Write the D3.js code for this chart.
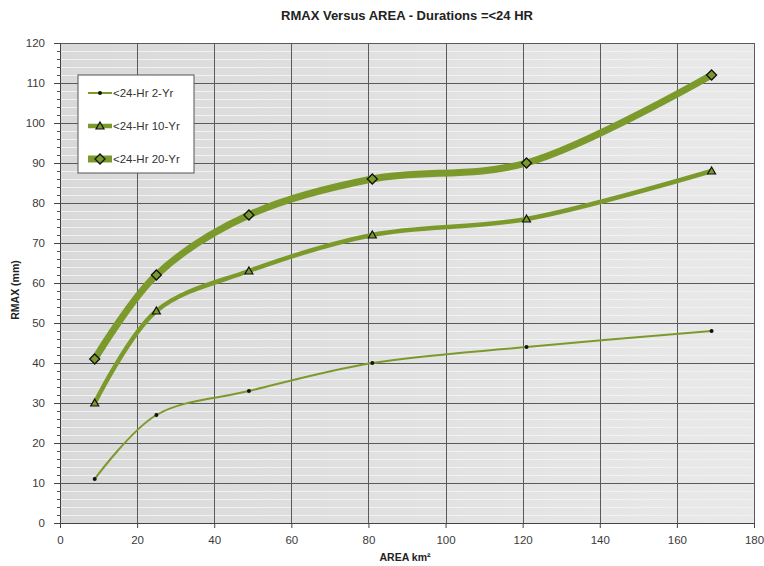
<!DOCTYPE html>
<html>
<head>
<meta charset="utf-8">
<script src="https://cdn.jsdelivr.net/npm/d3@7"></script>
<style>
  body { margin: 0; background: #fff; }
  text { font-family: "Liberation Sans", Arial, sans-serif; }
</style>
</head>
<body>
<svg id="chart" width="764" height="566"></svg>
<script>
// Data
const areas = [9, 25, 49, 81, 121, 169];
const rmax2yr = [11, 27, 33, 40, 44, 48];
const rmax10yr = [30, 53, 63, 72, 76, 88];
const rmax20yr = [41, 62, 77, 86, 90, 112];
const seriesNames = ['<24-Hr 2-Yr', '<24-Hr 10-Yr', '<24-Hr 20-Yr'];
const xTicks = [0, 20, 40, 60, 80, 100, 120, 140, 160, 180];
const yTicks = [0, 10, 20, 30, 40, 50, 60, 70, 80, 90, 100, 110, 120];

const margin = { left: 60, right: 10, top: 43, bottom: 43 };
const width = 764, height = 566;
const innerWidth = width - margin.left - margin.right;
const innerHeight = height - margin.top - margin.bottom;

const svg = d3.select('#chart');

// Background gradient
const defs = svg.append('defs');
const grad = defs.append('linearGradient')
    .attr('id', 'bg')
    .attr('x1', 0).attr('x2', 1).attr('y1', 0).attr('y2', 0);
grad.append('stop').attr('offset', '0%').attr('stop-color', '#d9d9d9');
grad.append('stop').attr('offset', '100%').attr('stop-color', '#e9e9e9');

const g = svg.append('g')
    .attr('transform', `translate(${margin.left},${margin.top})`);

const xScale = d3.scaleLinear().domain([0, 180]).range([0, innerWidth]);
const yScale = d3.scaleLinear().domain([0, 120]).range([innerHeight, 0]);

g.append('rect')
    .attr('width', innerWidth)
    .attr('height', innerHeight)
    .attr('fill', 'url(#bg)');

const minorVals = d3.range(2, 120, 2).filter(v => v % 10 !== 0);

// Minor horizontal grid (every 2)
g.append('g')
    .selectAll('line')
    .data(minorVals)
    .join('line')
    .attr('x1', 0).attr('x2', innerWidth)
    .attr('y1', d => Math.round(yScale(d)) + 0.5).attr('y2', d => Math.round(yScale(d)) + 0.5)
    .attr('stroke', '#f2f2f2')
    .attr('stroke-width', 1);

// Major grid
g.append('g')
    .selectAll('line')
    .data(yTicks.slice(1))
    .join('line')
    .attr('x1', 0).attr('x2', innerWidth)
    .attr('y1', d => Math.round(yScale(d)) + 0.5).attr('y2', d => Math.round(yScale(d)) + 0.5)
    .attr('stroke', '#5a5a5a');

g.append('g')
    .selectAll('line')
    .data(xTicks.slice(1))
    .join('line')
    .attr('y1', 0).attr('y2', innerHeight)
    .attr('x1', d => Math.round(xScale(d)) + 0.5).attr('x2', d => Math.round(xScale(d)) + 0.5)
    .attr('stroke', '#5a5a5a');

// Axes
const xAxis = g.append('g')
    .attr('transform', `translate(0,${innerHeight})`)
    .call(d3.axisBottom(xScale).tickValues(xTicks).tickSize(5).tickPadding(8));

const yAxis = g.append('g')
    .call(d3.axisLeft(yScale).tickValues(yTicks).tickSize(6).tickPadding(9));

// Minor y ticks
g.append('g')
    .selectAll('line')
    .data(minorVals)
    .join('line')
    .attr('x1', -3).attr('x2', 0)
    .attr('y1', d => Math.round(yScale(d)) + 0.5).attr('y2', d => Math.round(yScale(d)) + 0.5)
    .attr('stroke', '#555');

[xAxis, yAxis].forEach(ax => {
    ax.select('.domain').attr('stroke', '#444');
    ax.selectAll('.tick line').attr('stroke', '#444');
    ax.selectAll('.tick text')
        .attr('fill', '#3a3a3a')
        .style('font-size', '11.5px');
});

// Titles
svg.append('text')
    .attr('x', 407)
    .attr('y', 20)
    .attr('text-anchor', 'middle')
    .style('font-size', '13px')
    .style('font-weight', 'bold')
    .attr('fill', '#222')
    .text('RMAX Versus AREA - Durations =<24 HR');

svg.append('text')
    .attr('x', 405)
    .attr('y', 561)
    .attr('text-anchor', 'middle')
    .style('font-size', '10.5px')
    .style('font-weight', 'bold')
    .attr('fill', '#222')
    .text('AREA km²');

svg.append('text')
    .attr('transform', 'rotate(-90)')
    .attr('x', -290)
    .attr('y', 19)
    .attr('text-anchor', 'middle')
    .style('font-size', '10.5px')
    .style('font-weight', 'bold')
    .attr('fill', '#222')
    .text('RMAX (mm)');

// Lines
const lineColor = '#7c9a2c';
const series = [
    { name: seriesNames[0], values: rmax2yr, width: 2, marker: 'dot' },
    { name: seriesNames[1], values: rmax10yr, width: 4.5, marker: 'triangle' },
    { name: seriesNames[2], values: rmax20yr, width: 7, marker: 'diamond' }
];

const line = d3.line()
    .x(d => xScale(d.x))
    .y(d => yScale(d.y))
    .curve(d3.curveCatmullRom.alpha(0.5));

function drawMarker(sel, type, x, y) {
    if (type === 'dot') {
        sel.append('circle')
            .attr('cx', x).attr('cy', y)
            .attr('r', 2)
            .attr('fill', '#111');
    } else if (type === 'triangle') {
        sel.append('path')
            .attr('d', `M${x},${y - 4}L${x + 4},${y + 3}L${x - 4},${y + 3}Z`)
            .attr('fill', lineColor)
            .attr('stroke', '#111')
            .attr('stroke-width', 1.2);
    } else {
        sel.append('path')
            .attr('d', `M${x},${y - 5}L${x + 5},${y}L${x},${y + 5}L${x - 5},${y}Z`)
            .attr('fill', lineColor)
            .attr('stroke', '#111')
            .attr('stroke-width', 1.3);
    }
}

series.forEach(s => {
    const data = areas.map((a, i) => ({ x: a, y: s.values[i] }));
    g.append('path')
        .datum(data)
        .attr('d', line)
        .attr('fill', 'none')
        .attr('stroke', lineColor)
        .attr('stroke-width', s.width)
        .attr('stroke-linejoin', 'round');
    const mg = g.append('g');
    data.forEach(d => drawMarker(mg, s.marker, xScale(d.x), yScale(d.y)));
});

// Legend
const legend = svg.append('g').attr('transform', 'translate(78,75)');
legend.append('rect')
    .attr('width', 116)
    .attr('height', 98)
    .attr('fill', '#fff')
    .attr('stroke', '#555');

series.forEach((s, i) => {
    const y = 18 + i * 33;
    legend.append('line')
        .attr('x1', 10).attr('x2', 34)
        .attr('y1', y).attr('y2', y)
        .attr('stroke', lineColor)
        .attr('stroke-width', s.width);
    drawMarker(legend, s.marker, 22, y);
    legend.append('text')
        .attr('x', 35)
        .attr('y', y + 4)
        .style('font-size', '11.5px')
        .attr('fill', '#333')
        .text(s.name);
});
</script>
</body>
</html>
